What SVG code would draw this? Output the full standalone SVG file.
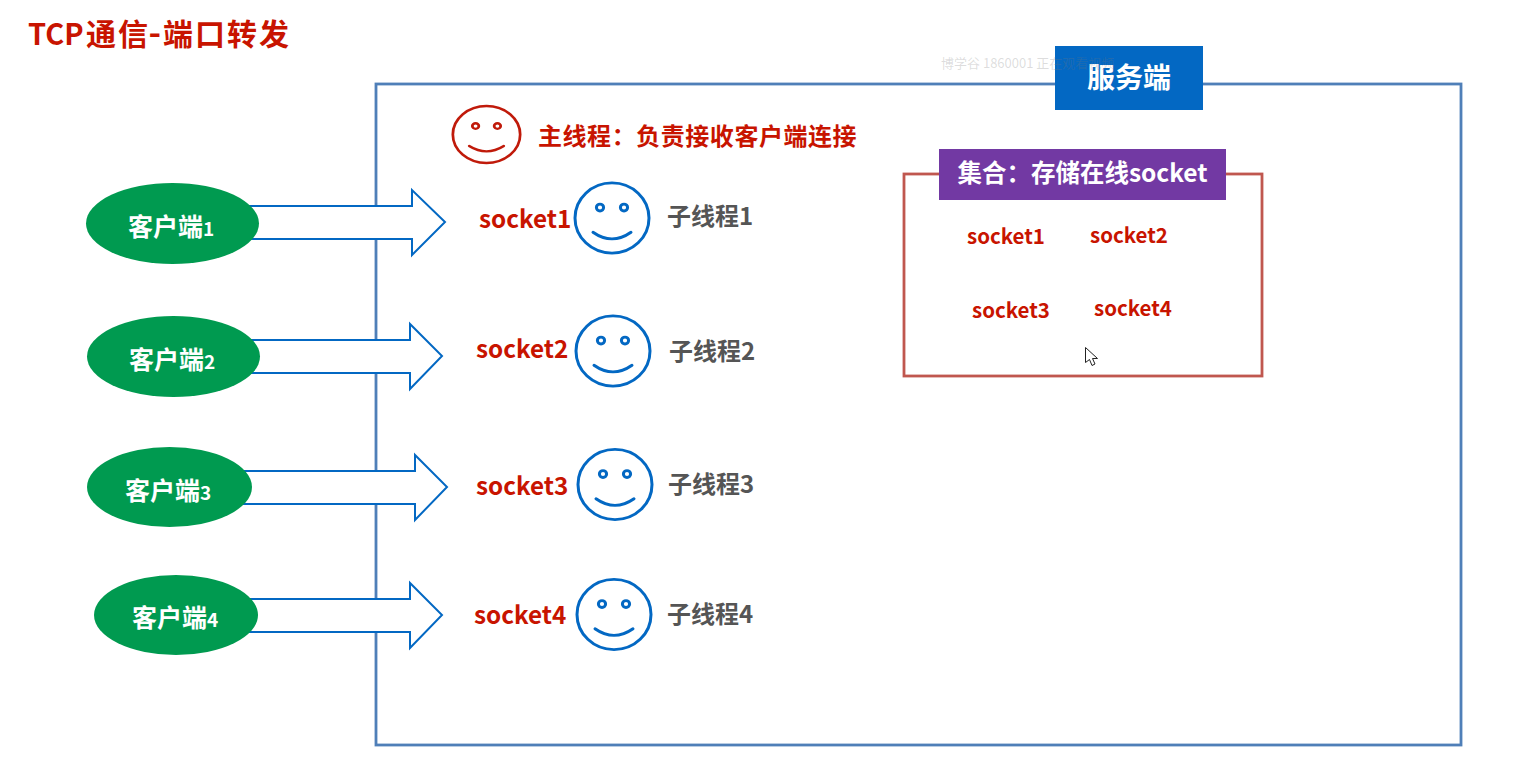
<svg xmlns="http://www.w3.org/2000/svg" width="1538" height="783" viewBox="0 0 1538 783">
<defs>
<g id="face"><circle cx="0" cy="0" r="37" fill="none" stroke-width="3"/><circle cx="-12" cy="-11" r="3.6" fill="none" stroke-width="3"/><circle cx="12" cy="-11" r="3.6" fill="none" stroke-width="3"/><path d="M-19 15Q0 29 19 15" fill="none" stroke-width="3" stroke-linecap="round"/></g>
</defs>
<style>
text{font-family:"Noto Sans CJK SC","Noto Sans","Open Sans",sans-serif;font-weight:700}
.arrow{fill:#fff;stroke:#0368c3;stroke-width:2}
.ell{fill:#009a50}
.cl{fill:#fff;font-size:25px}
.cn{font-size:19px}
.sock{fill:#c81400;font-size:24.300px}
.sub{fill:#555;font-size:24px}
.s2{fill:#c81400;font-size:20.500px}
</style>
<rect width="1538" height="783" fill="#fff"/>
<text y="45" fill="#c81400" style="font-size:29px"><tspan x="28">TCP</tspan><tspan x="86" style="font-size:30px;letter-spacing:2px">通信</tspan><tspan x="148.500" style="font-size:34px">-</tspan><tspan x="163" style="font-size:30px;letter-spacing:2px">端口转发</tspan></text>
<g id="server">
<rect x="376" y="84" width="1085" height="661" fill="none" stroke="#4f7fb8" stroke-width="2.800"/>
<rect x="1055" y="46" width="148" height="64" fill="#0368c3"/>
<text x="1129" y="88" fill="#fff" text-anchor="middle" style="font-size:28px">服务端</text>
<text x="941" y="68" fill="#777" fill-opacity=".25" style="font-size:13px;font-weight:400">博学谷 1860001 正在观看视频</text>
</g>
<g id="connectors">
<path class="arrow" d="M245 206H412V190L445 222L412 255V239H245Z"/>
<path class="arrow" d="M245 340H410V324L442 356L410 389V373H245Z"/>
<path class="arrow" d="M240 471H415V455L447 487L415 520V504H240Z"/>
<path class="arrow" d="M245 599H410V583L442 615L410 648V632H245Z"/>
</g>
<g id="client1"><ellipse class="ell" cx="172.500" cy="223.500" rx="86.500" ry="40.500"/><text class="cl" x="128" y="236">客户端<tspan class="cn">1</tspan></text></g>
<g id="client2"><ellipse class="ell" cx="173.500" cy="356.500" rx="86.500" ry="40.500"/><text class="cl" x="129" y="369">客户端<tspan class="cn">2</tspan></text></g>
<g id="client3"><ellipse class="ell" cx="169.500" cy="487" rx="82.500" ry="40"/><text class="cl" x="125" y="500">客户端<tspan class="cn">3</tspan></text></g>
<g id="client4"><ellipse class="ell" cx="176" cy="615" rx="82" ry="40"/><text class="cl" x="132" y="627">客户端<tspan class="cn">4</tspan></text></g>
<g id="main-thread"><use href="#face" transform="translate(486.500 134.500) scale(.91 .77)" stroke="#c01a0a"/><text x="538" y="145" fill="#c81400" style="font-size:24px;letter-spacing:.55px">主线程：负责接收客户端连接</text></g>
<g id="thread1"><text class="sock" x="479" y="228">socket1</text><use href="#face" transform="translate(612 218) scale(1 .95)" stroke="#0368c3"/><text class="sub" x="667" y="225">子线程1</text></g>
<g id="thread2"><text class="sock" x="476" y="358">socket2</text><use href="#face" transform="translate(613 351) scale(1 .95)" stroke="#0368c3"/><text class="sub" x="669" y="360">子线程2</text></g>
<g id="thread3"><text class="sock" x="476" y="495">socket3</text><use href="#face" transform="translate(615 484.500) scale(1 .95)" stroke="#0368c3"/><text class="sub" x="668" y="493">子线程3</text></g>
<g id="thread4"><text class="sock" x="474" y="624">socket4</text><use href="#face" transform="translate(614 614.500) scale(1 .95)" stroke="#0368c3"/><text class="sub" x="667" y="623">子线程4</text></g>
<g id="collection">
<rect x="904" y="174" width="358" height="202" fill="none" stroke="#c0574f" stroke-width="2.800"/>
<rect x="939" y="149" width="287" height="51" fill="#7239a3"/>
<text x="1082.500" y="182" fill="#fff" text-anchor="middle" style="font-size:24.500px">集合：存储在线socket</text>
<text class="s2" x="967" y="244">socket1</text><text class="s2" x="1090" y="243">socket2</text>
<text class="s2" x="972" y="318">socket3</text><text class="s2" x="1094" y="316">socket4</text>
</g>
<path id="cursor" d="M1085.500 347.500V362.500L1089.500 359.500L1092 365.500L1095 364L1092.500 358.500L1097.500 358.500Z" fill="#fff" stroke="#222" stroke-width="1"/>
</svg>
